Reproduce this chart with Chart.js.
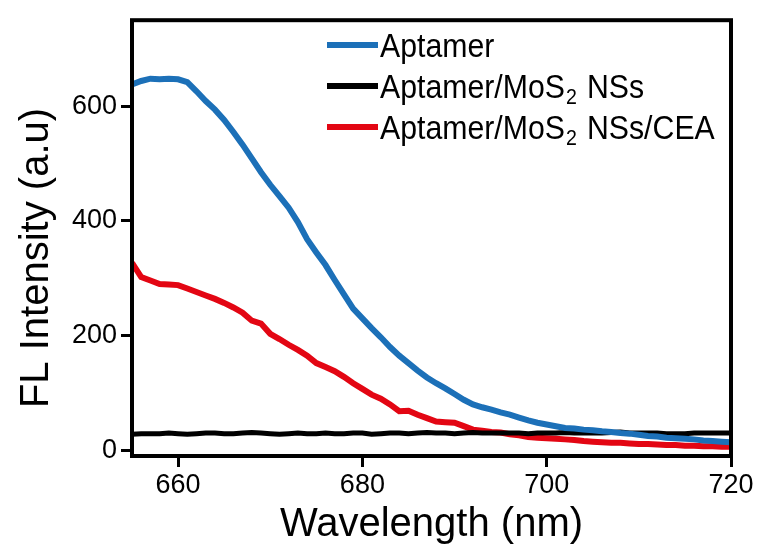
<!DOCTYPE html>
<html>
<head>
<meta charset="utf-8">
<script src="https://cdn.jsdelivr.net/npm/chart.js@4.4.0/dist/chart.umd.min.js"></script>
<style>
  body { margin: 0; background: #fff; }
  canvas { display: block; }
</style>
</head>
<body>
<canvas id="myChart" width="761" height="552"></canvas>
<script>
// wavelength in nm, one point per nm
const wavelengths = [
  655, 656, 657, 658, 659, 660, 661, 662, 663, 664, 665,
  666, 667, 668, 669, 670, 671, 672, 673, 674, 675, 676,
  677, 678, 679, 680, 681, 682, 683, 684, 685, 686, 687,
  688, 689, 690, 691, 692, 693, 694, 695, 696, 697, 698,
  699, 700, 701, 702, 703, 704, 705, 706, 707, 708, 709,
  710, 711, 712, 713, 714, 715, 716, 717, 718, 719, 720
];

const aptamer = [
  638, 644, 648, 647, 648, 647, 642, 626, 609, 594, 576,
  555, 533, 509, 485, 463, 443, 423, 398, 368, 345, 323,
  297, 272, 247, 230, 213, 197, 180, 165, 152, 139, 127,
  117, 108, 98, 88, 80, 75, 71, 66, 62, 57, 52,
  48, 45, 42, 39, 38, 36, 35, 33, 32, 30, 29,
  27, 25, 24, 22, 21, 20, 19, 17, 16, 15, 14
];

const aptamerMoS2 = [
  28, 29, 29, 29, 30, 29, 28, 29, 30, 30, 29,
  29, 30, 31, 30, 29, 28, 29, 30, 29, 29, 30,
  29, 29, 30, 30, 28, 29, 30, 30, 29, 30, 31,
  30, 30, 29, 30, 31, 30, 30, 30, 30, 30, 29,
  30, 30, 30, 31, 30, 30, 30, 30, 31, 32, 30,
  30, 30, 30, 29, 29, 29, 30, 30, 30, 30, 30
];

const aptamerMoS2CEA = [
  327, 302, 296, 290, 289, 288, 282, 276, 270, 264, 257,
  249, 240, 226, 221, 203, 194, 184, 175, 165, 152, 145,
  138, 128, 117, 107, 97, 90, 80, 68, 69, 62, 56,
  50, 49, 48, 42, 36, 34, 32, 31, 28, 26, 23,
  22, 21, 20, 19, 18, 16, 15, 14, 13, 13, 12,
  11, 11, 10, 9, 9, 8, 8, 7, 7, 6, 6
];

const xTicks = [660, 680, 700, 720];
const yTicks = [0, 200, 400, 600];
const seriesLabels = ['Aptamer', 'Aptamer/MoS₂ NSs', 'Aptamer/MoS₂ NSs/CEA'];

const FONT = '"Liberation Sans", Arial, Helvetica, sans-serif';

const toPoints = (ys) => wavelengths.map((x, i) => ({ x: x, y: ys[i] }));

// frame, axis titles and the legend inside the plot
const framePlugin = {
  id: 'frame',
  afterDraw(chart) {
    const ctx = chart.ctx;
    const a = chart.chartArea;
    ctx.save();
    ctx.strokeStyle = '#000';
    ctx.lineWidth = 4;
    ctx.strokeRect(a.left, a.top, a.right - a.left, a.bottom - a.top);

    ctx.fillStyle = '#000';
    ctx.font = '40px ' + FONT;
    ctx.textAlign = 'center';
    ctx.textBaseline = 'alphabetic';
    ctx.fillText('Wavelength (nm)', (a.left + a.right) / 2, 536);

    ctx.save();
    ctx.translate(48, 258);
    ctx.rotate(-Math.PI / 2);
    ctx.fillText('FL Intensity (a.u)', 0, 0);
    ctx.restore();

    // legend (text slightly condensed like the original figure)
    chart.data.datasets.forEach((ds, i) => {
      const y = 45 + i * 41;
      ctx.strokeStyle = ds.borderColor;
      ctx.lineWidth = 6;
      ctx.beginPath();
      ctx.moveTo(327, y);
      ctx.lineTo(378, y);
      ctx.stroke();

      ctx.save();
      ctx.translate(380, y + 12);
      ctx.scale(0.89, 1);
      ctx.textAlign = 'left';
      let x = 0;
      const parts = ds.label.split('₂');
      parts.forEach((p, j) => {
        ctx.font = '34px ' + FONT;
        ctx.fillText(p, x, 0);
        x += ctx.measureText(p).width;
        if (j < parts.length - 1) {
          ctx.font = '22px ' + FONT;
          ctx.fillText('2', x + 1, 6);
          x += ctx.measureText('2').width + 3;
        }
      });
      ctx.restore();
    });
    ctx.restore();
  }
};

const ctx = document.getElementById('myChart').getContext('2d');

const myChart = new Chart(ctx, {
  type: 'line',
  data: {
    datasets: [
      {
        label: seriesLabels[0],
        data: toPoints(aptamer),
        borderColor: '#1c70b8',
        borderWidth: 6,
        pointRadius: 0,
        tension: 0
      },
      {
        label: seriesLabels[1],
        data: toPoints(aptamerMoS2),
        borderColor: '#000000',
        borderWidth: 5,
        pointRadius: 0,
        tension: 0
      },
      {
        label: seriesLabels[2],
        data: toPoints(aptamerMoS2CEA),
        borderColor: '#e30613',
        borderWidth: 6,
        pointRadius: 0,
        tension: 0
      }
    ]
  },
  options: {
    responsive: false,
    animation: false,
    layout: {
      padding: { top: 15, right: 30, left: 0, bottom: 0 }
    },
    plugins: {
      legend: { display: false },
      tooltip: { enabled: false }
    },
    scales: {
      x: {
        type: 'linear',
        min: 655,
        max: 720,
        afterBuildTicks: (scale) => {
          scale.ticks = xTicks.map(v => ({ value: v }));
        },
        afterFit: (scale) => {
          scale.height = 96;
        },
        grid: {
          drawOnChartArea: false,
          drawTicks: true,
          tickLength: 11,
          tickWidth: 3,
          tickColor: '#000'
        },
        border: { display: false },
        ticks: {
          color: '#000',
          font: { family: FONT, size: 27 },
          padding: 2,
          maxRotation: 0
        }
      },
      y: {
        min: -10,
        max: 750,
        afterBuildTicks: (scale) => {
          scale.ticks = yTicks.map(v => ({ value: v }));
        },
        afterFit: (scale) => {
          scale.width = 132;
        },
        grid: {
          drawOnChartArea: false,
          drawTicks: true,
          tickLength: 11,
          tickWidth: 3,
          tickColor: '#000'
        },
        border: { display: false },
        ticks: {
          color: '#000',
          font: { family: FONT, size: 27 },
          padding: 4
        }
      }
    }
  },
  plugins: [framePlugin]
});
</script>
</body>
</html>
